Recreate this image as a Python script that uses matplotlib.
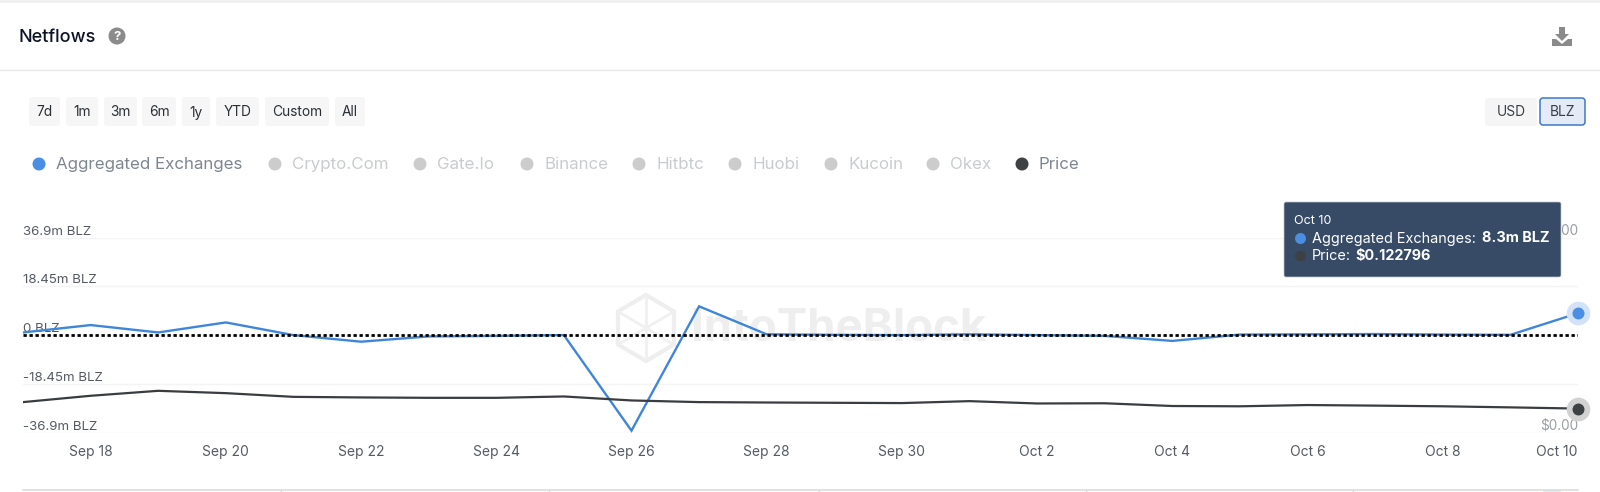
import matplotlib
matplotlib.use("Agg")
import matplotlib.pyplot as plt
import pandas as pd
from matplotlib.patches import FancyBboxPatch, Circle, Polygon, Rectangle

plt.rcParams['font.family'] = ['Inter', 'DejaVu Sans']

# values
dates = pd.date_range('2023-09-17', '2023-10-10', freq='D')
netflow_m = [1.0, 3.8, 1.0, 4.8, 0.0, -2.5, -0.5, -0.3, 0.0, -36.2, 10.9, 0.3,
             0.1, 0.0, 0.3, 0.0, -0.3, -2.2, 0.2, 0.3, 0.4, 0.2, 0.1, 8.3]
price = [0.156, 0.1885, 0.214, 0.202, 0.183, 0.18, 0.178, 0.178, 0.185, 0.1645,
         0.156, 0.154, 0.1525, 0.151, 0.161, 0.149, 0.15, 0.136, 0.1345, 0.141,
         0.138, 0.1345, 0.129, 0.1228]

y_ticks = [-36.9, -18.45, 0, 18.45, 36.9]
y_labels = ['-36.9m BLZ', '-18.45m BLZ', '0 BLZ', '18.45m BLZ', '36.9m BLZ']
price_ticks = [0, 1]
price_labels = ['$0.00', '$1.00']
x_ticks = pd.to_datetime(['2023-09-18', '2023-09-20', '2023-09-22', '2023-09-24',
                          '2023-09-26', '2023-09-28', '2023-09-30', '2023-10-02',
                          '2023-10-04', '2023-10-06', '2023-10-08', '2023-10-10'])
x_labels = ['Sep 18', 'Sep 20', 'Sep 22', 'Sep 24', 'Sep 26', 'Sep 28', 'Sep 30',
            'Oct 2', 'Oct 4', 'Oct 6', 'Oct 8', 'Oct 10']

range_buttons = ['7d', '1m', '3m', '6m', '1y', 'YTD', 'Custom', 'All']
range_edges = [(29, 60), (66, 98), (104, 137), (142, 176), (182, 210), (216, 259), (265, 329), (335, 365)]
legend_names = ['Aggregated Exchanges', 'Crypto.Com', 'Gate.Io', 'Binance', 'Hitbtc', 'Huobi', 'Kucoin', 'Okex', 'Price']
legend_x = [39, 275, 420, 527, 639, 735, 831, 933, 1022]

BLUE = '#3f86d9'
DARK = '#3a3d3f'
W, H = 1600, 492

fig = plt.figure(figsize=(W / 100, H / 100), dpi=100, facecolor='white')

# page furniture, drawn in pixel coordinates
bg = fig.add_axes([0, 0, 1, 1], zorder=0)
bg.set_xlim(0, W)
bg.set_ylim(H, 0)
bg.axis('off')


def button(ax, x0, x1, y0, y1, fc, ec='none', lw=0):
    ax.add_patch(FancyBboxPatch((x0 + 2, y0 + 2), x1 - x0 - 4, y1 - y0 - 4,
                                boxstyle='round,pad=2,rounding_size=3', fc=fc, ec=ec, lw=lw))


bg.add_patch(Rectangle((0, 0), W, 2.5, fc='#f0f0f0', ec='none'))
bg.plot([0, W], [69.5, 69.5], color='#e9e9e9', lw=1)
bg.text(18, 37.5, 'Netflows', fontsize=13, weight=500, color='#0b1326', va='center')
bg.add_patch(Circle((117, 36), 8.5, fc='#8b8b8b', ec='none'))
bg.text(117, 36.5, '?', fontsize=9.5, weight='bold', color='white', ha='center', va='center')

# download icon
bg.add_patch(Polygon([(1559, 27), (1565, 27), (1565, 34), (1569, 34), (1562, 41), (1555, 34), (1559, 34)],
                     fc='#8a8a8a', ec='none'))
bg.add_patch(Polygon([(1552, 39), (1556, 39), (1562, 44), (1568, 39), (1572, 39), (1572, 46), (1552, 46)],
                     fc='#8a8a8a', ec='none'))

for name, (x0, x1) in zip(range_buttons, range_edges):
    button(bg, x0, x1, 97, 126, '#f6f6f6')
    bg.text((x0 + x1) / 2, 112.5, name, fontsize=9.9, color='#2b2f36', ha='center', va='center')

button(bg, 1485, 1537, 98, 126, '#f5f5f5')
bg.text(1511, 112.5, 'USD', fontsize=9.9, color='#3a3f47', ha='center', va='center')
button(bg, 1540, 1585, 98, 125, '#e4eaf6', ec='#3f78c8', lw=1.1)
bg.text(1562.5, 112.5, 'BLZ', fontsize=9.9, color='#3a3f47', ha='center', va='center')

for name, x in zip(legend_names, legend_x):
    active = name in ('Aggregated Exchanges', 'Price')
    dot = {'Aggregated Exchanges': '#4a8fe3', 'Price': '#3d4144'}.get(name, '#cccccc')
    bg.add_patch(Circle((x, 164), 6.5, fc=dot, ec='none'))
    bg.text(x + 17, 164.5, name, fontsize=12.2, color='#7d8790' if active else '#c9ccce', va='center')

# watermark
hx, hy, r = 646, 328, 33
hex_pts = [(hx, hy - r), (hx + 28, hy - r / 2), (hx + 28, hy + r / 2), (hx, hy + r), (hx - 28, hy + r / 2), (hx - 28, hy - r / 2)]
bg.add_patch(Polygon(hex_pts, fc='none', ec='#eeeeee', lw=3))
for a, b in [(0, 3), (1, 4), (2, 5)]:
    bg.plot([hex_pts[a][0], hex_pts[b][0]], [hex_pts[a][1], hex_pts[b][1]], color='#f0f0f0', lw=2)
bg.text(691, 329, 'IntoTheBlock', fontsize=32.8, weight='bold', color='#eeeeee', va='center')

# table edge under the chart
bg.plot([23, 1578], [489.5, 489.5], color='#dcdcdc', lw=1.2)
for x in [281, 549, 819, 1086, 1353]:
    bg.plot([x, x], [489.5, 492], color='#dcdcdc', lw=1)
bg.add_patch(Rectangle((1543, 490), 18, 2, fc='#e4eaf6', ec='none'))

# the chart itself
top, bottom, left, right = 237.7, 432.5, 23, 1578
ax = fig.add_axes([left / W, 1 - bottom / H, (right - left) / W, (bottom - top) / H], zorder=1)
ax.patch.set_alpha(0)
ax2 = ax.twinx()
ax2.patch.set_alpha(0)

ax.set_xlim(dates[0], dates[-1])
ax.set_ylim(-36.9, 36.9)
ax2.set_ylim(0, 1)

ax.set_yticks(y_ticks)
ax.set_yticklabels(y_labels)
ax.set_xticks(x_ticks)
ax.set_xticklabels(x_labels)
ax2.set_yticks(price_ticks)
ax2.set_yticklabels(price_labels)

ax.grid(axis='y', color='#f4f4f4', lw=1)
ax.grid(axis='x', visible=False)
ax.tick_params(axis='both', length=0, labelcolor='#565b63')
ax.tick_params(axis='y', pad=0, labelsize=9.6)
ax.tick_params(axis='x', pad=9, labelsize=10)
ax2.tick_params(axis='y', length=0, pad=0, labelsize=9.8, labelcolor='#9a9ea3')
for a in (ax, ax2):
    for s in a.spines.values():
        s.set_visible(False)
for lab in ax.get_yticklabels():
    lab.set_ha('left')
    lab.set_va('bottom')
for lab in ax2.get_yticklabels():
    lab.set_ha('right')
    lab.set_va('bottom')
ax.get_xticklabels()[-1].set_ha('right')

ax.plot(dates, netflow_m, color=BLUE, lw=1.7, solid_joinstyle='miter', zorder=2)
ax.axhline(0, color='black', lw=2.0, linestyle=(0, (1.19, 0.97)), zorder=3)
ax2.plot(dates, price, color=DARK, lw=1.6, zorder=2)

ax.plot(dates[-1:], netflow_m[-1:], 'o', ms=17, color='#d3e2f6', mec='none', clip_on=False, zorder=4)
ax.plot(dates[-1:], netflow_m[-1:], 'o', ms=8.6, color='#4a8fe3', mec='none', clip_on=False, zorder=5)
ax2.plot(dates[-1:], price[-1:], 'o', ms=17, color='#d2d2d2', mec='none', clip_on=False, zorder=4)
ax2.plot(dates[-1:], price[-1:], 'o', ms=8.6, color='#3d4144', mec='none', clip_on=False, zorder=5)

# tooltip on top of everything
fg = fig.add_axes([0, 0, 1, 1], zorder=3)
fg.set_xlim(0, W)
fg.set_ylim(H, 0)
fg.axis('off')
fg.add_patch(FancyBboxPatch((1286, 204), 273, 71, boxstyle='round,pad=2,rounding_size=2', fc='#374b67', ec='#bfc5cd', lw=0.5))
fg.text(1294, 221.5, 'Oct 10', fontsize=9, color='white', va='center')
fg.add_patch(Circle((1300.5, 238.5), 5.5, fc='#4a8fe3', ec='none'))
fg.text(1312, 238.5, 'Aggregated Exchanges:', fontsize=10.4, color='white', va='center')
fg.text(1482, 238.5, '8.3m BLZ', fontsize=10.4, weight='bold', color='white', va='center')
fg.add_patch(Circle((1300.5, 256), 5.5, fc='#3d4144', ec='none'))
fg.text(1312, 256, 'Price:', fontsize=10.4, color='white', va='center')
fg.text(1355, 256, '$0.122796', fontsize=10.4, weight='bold', color='white', va='center')

fig.savefig('out.png', dpi=100)
